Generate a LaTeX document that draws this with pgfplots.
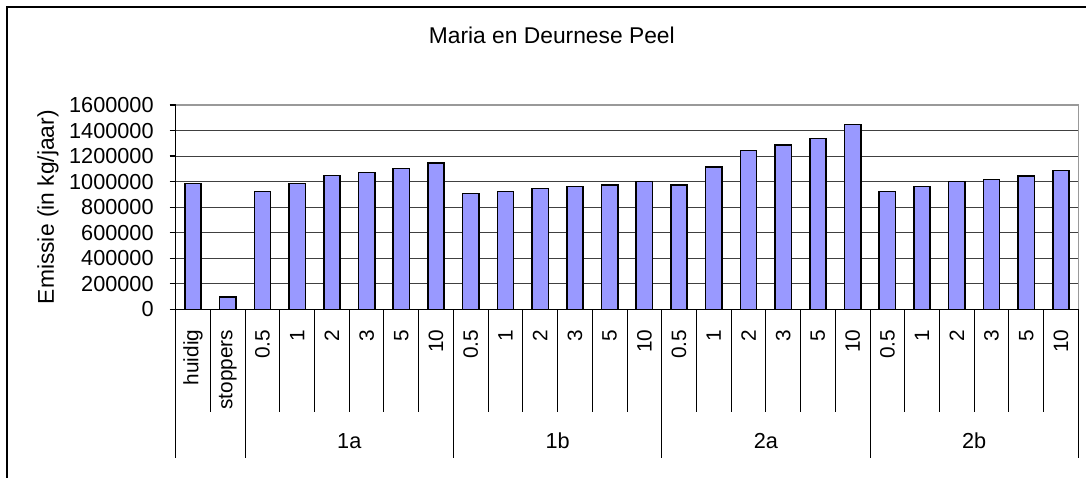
\documentclass[border=0pt]{standalone}
\usepackage{pgfplots}
\pgfplotsset{compat=1.18}
\usepackage{fontspec}
\setmainfont{Liberation Sans}
\definecolor{barfill}{HTML}{9999FF}
\definecolor{framegray}{HTML}{999999}
\begin{document}
\begin{tikzpicture}
\begin{axis}[
  at={(87.85pt,-154.65pt)}, anchor=south west,
  scale only axis, width=451.3pt, height=102.15pt,
  xmin=-0.5, xmax=25.5, ymin=0, ymax=1600000,
  axis line style={draw=none},
  xtick={0,...,25},
  xticklabels={huidig,stoppers,0.5,1,2,3,5,10,0.5,1,2,3,5,10,0.5,1,2,3,5,10,0.5,1,2,3,5,10},
  x tick label style={yshift=-3.7pt, rotate=90, anchor=east, font=\fontsize{10.4}{12}\selectfont},
  xtick style={draw=none},
  ytick={0,200000,...,1600000},
  scaled y ticks=false,
  y tick label style={xshift=-4.5pt, font=\fontsize{10.85}{12}\selectfont, /pgf/number format/fixed, /pgf/number format/1000 sep={}, /pgf/number format/assume math mode=true},
  tick align=outside, major tick length=3pt,
  ytick pos=left,
  ytick style={black, line width=0.6pt},
  ymajorgrids, grid style={black!75, line width=0.5pt},
  title={Maria en Deurnese Peel},
  title style={at={(axis description cs:0.4167,1.243)}, anchor=base, font=\fontsize{11.4}{13}\selectfont},
  ylabel={Emissie (in kg/jaar)},
  every axis y label/.style={at={(axis description cs:-0.1414,0.5)}, rotate=90, anchor=center, font=\fontsize{11.4}{13}\selectfont},
  clip=false,
]
\addplot[ybar, bar width=8.15pt, fill=barfill, draw=black, line width=0.75pt] coordinates {
(0,987000) (1,96000)
(2,921000) (3,987000) (4,1047000) (5,1073000) (6,1102000) (7,1145000)
(8,906000) (9,921000) (10,947000) (11,962000) (12,975000) (13,1002000)
(14,975000) (15,1114000) (16,1242000) (17,1285000) (18,1337000) (19,1446000)
(20,921000) (21,962000) (22,1002000) (23,1018000) (24,1045000) (25,1088000)
};
% frame
\draw[framegray, line width=0.75pt] (rel axis cs:0,1) -- (rel axis cs:1,1) -- (rel axis cs:1,0);
\draw[black, line width=0.6pt] (rel axis cs:0,1) -- (rel axis cs:0,0) -- (rel axis cs:1,0);
% category separators
\pgfplotsinvokeforeach{0.5,2.5,3.5,4.5,5.5,6.5,8.5,9.5,10.5,11.5,12.5,14.5,15.5,16.5,17.5,18.5,20.5,21.5,22.5,23.5,24.5}{
  \draw[black, line width=0.5pt] (axis cs:#1,0) -- ([yshift=-51.5pt]axis cs:#1,0);
}
\pgfplotsinvokeforeach{-0.5,1.5,7.5,13.5,19.5,25.5}{
  \draw[black, line width=0.5pt] (axis cs:#1,0) -- ([yshift=-74.5pt]axis cs:#1,0);
}
\node[anchor=base, inner sep=0pt, font=\fontsize{10.85}{12}\selectfont] at ([yshift=-69.35pt]axis cs:4.5,0) {1a};
\node[anchor=base, inner sep=0pt, font=\fontsize{10.85}{12}\selectfont] at ([yshift=-69.35pt]axis cs:10.5,0) {1b};
\node[anchor=base, inner sep=0pt, font=\fontsize{10.85}{12}\selectfont] at ([yshift=-69.35pt]axis cs:16.5,0) {2a};
\node[anchor=base, inner sep=0pt, font=\fontsize{10.85}{12}\selectfont] at ([yshift=-69.35pt]axis cs:22.5,0) {2b};
\end{axis}
\draw[black, line width=0.85pt] (3.65pt,-240pt) -- (3.65pt,-3.65pt) -- (545pt,-3.65pt);
\pgfresetboundingbox
\path[use as bounding box] (0pt,0pt) rectangle (543pt,-238.5pt);
\end{tikzpicture}
\end{document}
